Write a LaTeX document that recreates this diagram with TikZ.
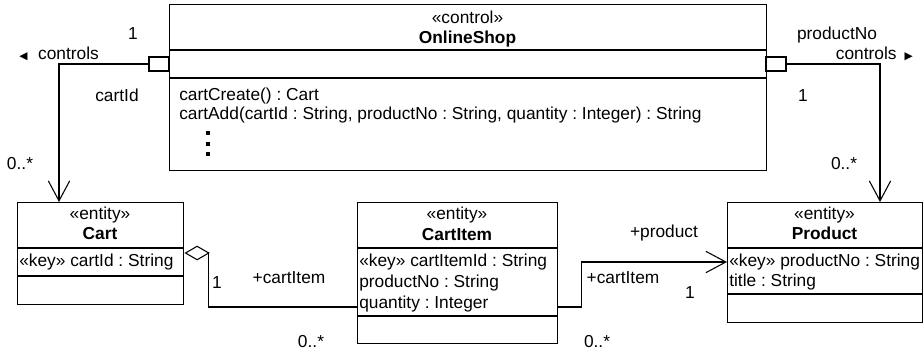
\documentclass[tikz,border=0pt]{standalone}
\usepackage{fontspec}
\setmainfont{Liberation Sans}
\newfontfamily\symfont{DejaVu Sans}
\usetikzlibrary{arrows.meta,calc}
\frenchspacing
\begin{document}
\begin{tikzpicture}[x=0.75pt,y=-0.75pt,
  font=\fontsize{13}{15.5}\selectfont\frenchspacing,
  classbox/.style={draw, line width=1.1pt, inner sep=0, anchor=north west},
  cline/.style={line width=1.1pt},
  port/.style={draw, line width=1.1pt, inner sep=0, minimum width=15pt, minimum height=10.5pt},
  txt/.style={inner sep=0, text height=9.4pt, text depth=0pt},
  assoc/.style={line width=0.8pt},
  nav/.style={-{Straight Barb[length=15pt,width=16pt,line width=0.8pt]}},
  agg/.style={{Diamond[open,length=19pt,width=11pt,line width=0.8pt]}-}]
\useasboundingbox (0,0) rectangle (923,350);

% OnlineShop
\node[classbox, minimum width=447.75pt, minimum height=124.5pt] (shop) at (169,4) {};
\draw[cline] ($(shop.north west)+(0,46)$) -- ($(shop.north east)+(0,46)$);
\draw[cline] ($(shop.north west)+(0,74)$) -- ($(shop.north east)+(0,74)$);
\node[txt] (shopst) at (467.5,17) {«control»};
\node[txt, font=\fontsize{13}{15.5}\selectfont\bfseries] (shopname) at (467.5,37) {OnlineShop};
\node[txt, anchor=west] (op1) at (179,94) {cartCreate() : Cart};
\node[txt, anchor=west] (op2) at (179,113) {cartAdd(cartId : String, productNo : String, quantity : Integer) : String};
\fill (206,131) rectangle (210,135);
\fill (206,141.5) rectangle (210,145.5);
\fill (206,152) rectangle (210,156);

% ports
\node[port] (lport) at (159,64) {};
\node[port] (rport) at (776,64) {};

% Cart
\node[classbox, minimum width=124.5pt, minimum height=76.5pt] (cart) at (17,202) {};
\draw[cline] ($(cart.north west)+(0,46)$) -- ($(cart.north east)+(0,46)$);
\draw[cline] ($(cart.north west)+(0,74)$) -- ($(cart.north east)+(0,74)$);
\node[txt] (cartst) at (100,213) {«entity»};
\node[txt, font=\fontsize{13}{15.5}\selectfont\bfseries] (cartname) at (100,233) {Cart};
\node[txt, anchor=west] (cartat1) at (19,260) {«key» cartId : String};

% CartItem
\node[classbox, minimum width=150pt, minimum height=105.75pt] (ci) at (357,202) {};
\draw[cline] ($(ci.north west)+(0,46)$) -- ($(ci.north east)+(0,46)$);
\draw[cline] ($(ci.north west)+(0,114)$) -- ($(ci.north east)+(0,114)$);
\node[txt] (cist) at (457,213) {«entity»};
\node[txt, font=\fontsize{13}{15.5}\selectfont\bfseries] (ciname) at (457,234) {CartItem};
\node[txt, anchor=west] (ciat1) at (359,260) {«key» cartItemId : String};
\node[txt, anchor=west] (ciat2) at (359,281) {productNo : String};
\node[txt, anchor=west] (ciat3) at (359,302) {quantity : Integer};

% Product
\node[classbox, minimum width=146.25pt, minimum height=90pt] (prod) at (727,202) {};
\draw[cline] ($(prod.north west)+(0,46)$) -- ($(prod.north east)+(0,46)$);
\draw[cline] ($(prod.north west)+(0,92)$) -- ($(prod.north east)+(0,92)$);
\node[txt] (prodst) at (824.5,213) {«entity»};
\node[txt, font=\fontsize{13}{15.5}\selectfont\bfseries] (prodname) at (824.5,233) {Product};
\node[txt, anchor=west] (prodat1) at (729,260) {«key» productNo : String};
\node[txt, anchor=west] (prodat2) at (729,280) {title : String};

% connectors
\coordinate (cartin) at ($(cart.north west)+(42,0)$);
\coordinate (prodin) at ($(prod.north west)+(153,0)$);
\draw[assoc,nav] (lport.west) -| (cartin);
\draw[assoc,nav] (rport.east) -| (prodin);

\coordinate (cagg) at ($(cart.north east)+(0,51)$);
\coordinate (ciL) at ($(ci.north west)+(0,105)$);
\draw[assoc,agg] (cagg) -- ++(24,0) |- (ciL);

\coordinate (ciR) at ($(ci.north east)+(0,105)$);
\coordinate (pin) at ($(prod.north west)+(0,60)$);
\draw[assoc,nav] (ciR) -- ++(23,0) |- (pin);

% labels
\node[txt] (l1) at (133,33) {1};
\node[txt, anchor=west] (lctrl) at (19,53) {{\symfont\fontsize{8}{8}\selectfont ◀}\hspace{8pt}controls};
\node[txt] (lcid) at (117,95) {cartId};
\node[txt] (lmany) at (20,163) {0..*};
\node[txt] (rpno) at (837,33) {productNo};
\node[txt, anchor=east] (rctrl) at (913,53) {controls\hspace{6pt}{\symfont\fontsize{8}{8}\selectfont ▶}};
\node[txt] (r1) at (803,95) {1};
\node[txt] (rmany) at (844,163) {0..*};

\node[txt] (a1) at (217,282) {1};
\node[txt] (acitem) at (289,277) {+cartItem};
\node[txt] (amany) at (311,341) {0..*};

\node[txt] (pprod) at (664,231) {+product};
\node[txt] (pcitem) at (623,277) {+cartItem};
\node[txt] (p1) at (690,292) {1};
\node[txt] (pmany) at (597,341) {0..*};
\end{tikzpicture}
\end{document}
